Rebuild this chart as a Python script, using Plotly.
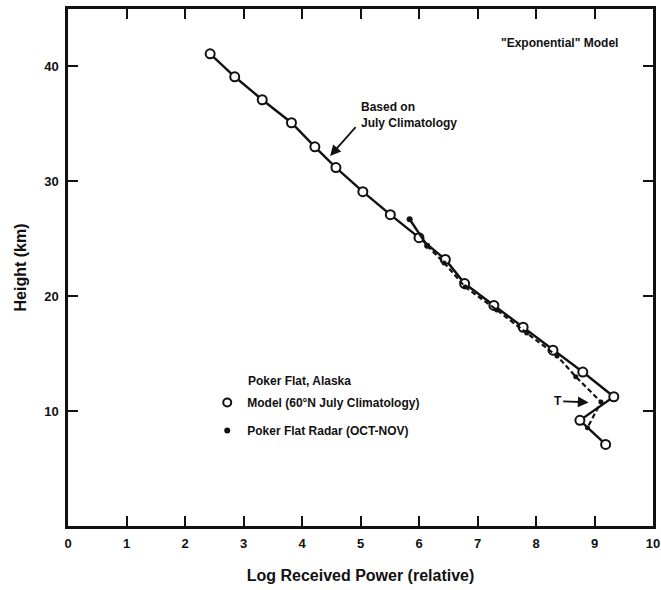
import plotly.graph_objects as go

# Model (60N July climatology) - open circles
model_power = [2.43, 2.85, 3.32, 3.82, 4.22, 4.58, 5.04, 5.51, 6.00, 6.45, 6.78, 7.28, 7.78, 8.29, 8.80, 9.33, 8.75, 9.19]
model_height = [41.1, 39.1, 37.1, 35.1, 33.0, 31.2, 29.1, 27.1, 25.1, 23.2, 21.1, 19.2, 17.3, 15.3, 13.4, 11.25, 9.2, 7.1]

# Poker Flat radar (OCT-NOV) - filled dots
radar_power = [5.84, 6.14, 6.43, 6.79, 7.33, 7.84, 8.36, 8.68, 9.11, 8.88]
radar_height = [26.7, 24.4, 22.9, 20.8, 18.8, 16.8, 14.8, 13.0, 10.8, 8.55]

x_ticks = [0, 1, 2, 3, 4, 5, 6, 7, 8, 9, 10]
y_ticks = [10, 20, 30, 40]

FONT = "Liberation Sans"
BLACK = "#111111"

fig = go.Figure()

fig.add_trace(go.Scatter(
    x=model_power, y=model_height, mode="lines+markers",
    line=dict(color=BLACK, width=2.4),
    marker=dict(symbol="circle", size=9, color="white", line=dict(color=BLACK, width=2)),
    showlegend=False,
))
fig.add_trace(go.Scatter(
    x=radar_power[:2], y=radar_height[:2], mode="lines+markers",
    line=dict(color=BLACK, width=2.4),
    marker=dict(symbol="circle", size=6, color=BLACK),
    showlegend=False,
))
fig.add_trace(go.Scatter(
    x=radar_power[1:], y=radar_height[1:], mode="lines+markers",
    line=dict(color=BLACK, width=2.2, dash="5px,3px"),
    marker=dict(symbol="circle", size=5, color=BLACK),
    showlegend=False,
))
# legend entries
fig.add_trace(go.Scatter(
    x=[None], y=[None], mode="markers", name="Model (60°N July Climatology)",
    marker=dict(symbol="circle", size=8, color="white", line=dict(color=BLACK, width=2)),
    legendgroup="a",
))
fig.add_trace(go.Scatter(
    x=[None], y=[None], mode="markers", name="Poker Flat Radar (OCT-NOV)",
    marker=dict(symbol="circle", size=6, color=BLACK),
    legendgroup="b",
))

axis_common = dict(
    showline=True, linecolor=BLACK, linewidth=2.5, mirror="ticks",
    ticks="inside", tickcolor=BLACK, tickwidth=2, ticklen=10,
    showgrid=False, zeroline=False,
    tickfont=dict(family=FONT, size=13, color=BLACK, weight="bold"),
    ticklabelstandoff=4, ticklabeloverflow="allow",
    automargin=False,
)

fig.update_xaxes(
    range=[0, 10], tickvals=x_ticks, ticktext=[str(v) for v in x_ticks],
    title=dict(text="Log Received Power (relative)", standoff=20,
               font=dict(family=FONT, size=16, color=BLACK, weight="bold")),
    **axis_common,
)
fig.update_yaxes(
    range=[0, 45], tickvals=y_ticks, ticktext=[str(v) for v in y_ticks],
    title=dict(text="Height (km)", standoff=14,
               font=dict(family=FONT, size=16, color=BLACK, weight="bold")),
    **axis_common,
)

ann_font = dict(family=FONT, size=12, color=BLACK, weight="bold")
fig.add_annotation(x=4.98, y=35.74, text="Based on<br>July Climatology", showarrow=False,
                   xanchor="left", yanchor="middle", align="left", font=ann_font)
fig.add_annotation(x=4.48, y=32.2, ax=4.94, ay=34.85, axref="x", ayref="y", text="",
                   showarrow=True, arrowhead=2, arrowsize=1.2, arrowwidth=1.8, arrowcolor=BLACK)
fig.add_annotation(x=8.90, y=10.76, ax=8.37, ay=10.87, axref="x", ayref="y", text="T",
                   showarrow=True, arrowhead=2, arrowsize=1.2, arrowwidth=1.8, arrowcolor=BLACK,
                   font=ann_font, standoff=0)
fig.add_annotation(x=8.40, y=42.03, text="\"Exponential\" Model", showarrow=False,
                   xanchor="center", yanchor="middle", font=ann_font)
fig.add_annotation(x=3.04, y=12.58, text="Poker Flat, Alaska", showarrow=False,
                   xanchor="left", yanchor="middle", font=ann_font)

fig.update_layout(
    width=661, height=590,
    margin=dict(l=68, r=8, t=9, b=64),
    paper_bgcolor="white", plot_bgcolor="white",
    font=dict(family=FONT, color=BLACK),
    legend=dict(x=0.238, y=0.267, xanchor="left", yanchor="top",
                bgcolor="rgba(0,0,0,0)", borderwidth=0, tracegroupgap=9,
                font=dict(family=FONT, size=12, color=BLACK, weight="bold")),
)

fig.write_html("out.html", config={"displayModeBar": False},
               post_script="document.body.style.margin='0';document.body.style.padding='0';")
